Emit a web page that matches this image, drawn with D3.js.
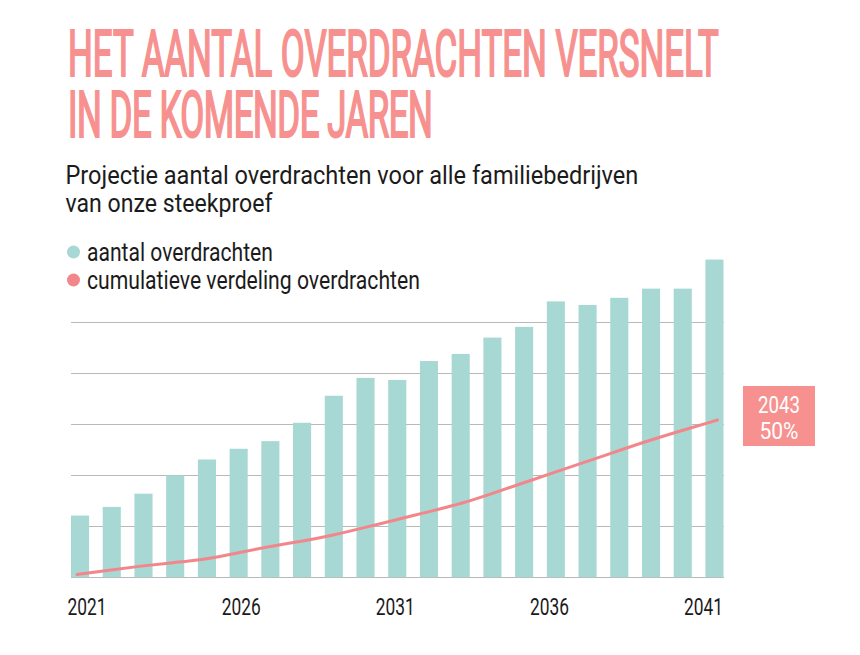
<!DOCTYPE html>
<html>
<head>
<meta charset="utf-8">
<script src="https://cdn.jsdelivr.net/npm/d3@7"></script>
<style>
  html, body { margin: 0; padding: 0; background: #ffffff; }
  svg { display: block; }
</style>
</head>
<body>
<div id="chart"></div>
<script>
// ---- Data ----
const years = ["2021","2022","2023","2024","2025","2026","2027","2028","2029","2030",
               "2031","2032","2033","2034","2035","2036","2037","2038","2039","2040","2041"];
const aantalOverdrachten = [12.1, 13.8, 16.4, 20.0, 23.1, 25.2, 26.7, 30.3, 35.6, 39.1,
                            38.7, 42.4, 43.8, 47.0, 49.1, 54.1, 53.4, 54.8, 56.6, 56.6, 62.3];
const cumulatieveVerdeling = [0.8, 2.1, 3.3, 4.3, 5.2, 7.1, 9.0, 10.5, 12.3, 14.6,
                              16.9, 19.2, 21.5, 24.6, 27.8, 31.0, 34.1, 37.3, 40.4, 43.2, 46.0];
const tickYears = ["2021","2026","2031","2036","2041"];
const gridValues = [0, 10, 20, 30, 40, 50];
const titleLines = ["HET AANTAL OVERDRACHTEN VERSNELT", "IN DE KOMENDE JAREN"];
const subtitleLines = ["Projectie aantal overdrachten voor alle familiebedrijven", "van onze steekproef"];
const legendItems = ["aantal overdrachten", "cumulatieve verdeling overdrachten"];
const annotationLines = ["2043", "50%"];

// ---- Styles ----
const W = 860, H = 655;
const teal = "#a7d8d3";
const pink = "#f7918f";
const lineColor = "#f2868a";
const font = "Roboto, 'Liberation Sans', sans-serif";

const svg = d3.select("#chart").append("svg")
  .attr("width", W).attr("height", H)
  .attr("viewBox", `0 0 ${W} ${H}`);

// Fit a text element horizontally to a target width by scaling about its anchor
function fitText(sel, xFn, yFn, wFn) {
  sel.each(function(d, i) {
    const el = d3.select(this);
    const len = this.getComputedTextLength();
    const sx = len > 0 ? wFn(d, i) / len : 1;
    el.attr("transform", `translate(${xFn(d, i)},${yFn(d, i)}) scale(${sx},1)`);
  });
}

// ---- Title (one text element, two lines) ----
const titleWidths = [651, 365];
const titleLineGap = 61.5;
const title = svg.append("text")
  .attr("font-family", font)
  .attr("font-size", 64)
  .attr("fill", pink)
  .attr("stroke", pink)
  .attr("stroke-width", 2.2);
const tspans = title.selectAll("tspan").data(titleLines).join("tspan")
  .attr("x", 0)
  .attr("y", (d, i) => i * titleLineGap)
  .text(d => d);
const len0 = tspans.nodes()[0].getComputedTextLength();
const titleSx = titleWidths[0] / len0;
// adjust second line with letter-spacing so it reaches its width at the same scale
tspans.each(function(d, i) {
  if (i > 0) {
    const li = this.getComputedTextLength();
    const extra = (titleWidths[i] / titleSx - li) / Math.max(1, d.length - 1);
    d3.select(this).attr("letter-spacing", extra);
  }
});
title.attr("transform", `translate(68,75.5) scale(${titleSx},1)`);

// ---- Subtitle ----
const subWidths = [573, 207];
const subBaselines = [183.5, 211.5];
const subSel = svg.selectAll("text.sub").data(subtitleLines).join("text")
  .attr("class", "sub")
  .attr("font-family", font)
  .attr("font-size", 25.5)
  .attr("fill", "#1b1b1b")
  .text(d => d);
fitText(subSel, () => 65.5, (d, i) => subBaselines[i], (d, i) => subWidths[i]);

// ---- Legend ----
const legendColors = [teal, lineColor];
const legendWidths = [186, 333];
const legendY = [252, 280];
svg.selectAll("circle.legend").data(legendItems).join("circle")
  .attr("class", "legend")
  .attr("cx", 73.5).attr("cy", (d, i) => legendY[i])
  .attr("r", 6.5).attr("fill", (d, i) => legendColors[i]);
const legSel = svg.selectAll("text.legend").data(legendItems).join("text")
  .attr("class", "legend")
  .attr("font-family", font)
  .attr("font-size", 25)
  .attr("fill", "#1b1b1b")
  .text(d => d);
fitText(legSel, () => 87, (d, i) => legendY[i] + 8.5, (d, i) => legendWidths[i]);

// ---- Scales ----
const x = d3.scaleBand().domain(years).range([71, 723.5]).paddingInner(0.43).paddingOuter(0);
const y = d3.scaleLinear().domain([0, 60]).range([577.3, 271.3]);
const y2 = d3.scaleLinear().domain([0, 50]).range([577.3, 406.3]);
const xLine = d3.scalePoint().domain(years)
  .range([x(years[0]) + x.bandwidth() / 2 - 3, x(years[years.length - 1]) + x.bandwidth() / 2 + 3]);
const xTick = d3.scalePoint().domain(tickYears).range([87, 703.5]);

// ---- Gridlines ----
svg.append("g").selectAll("line").data(gridValues).join("line")
  .attr("x1", 71).attr("x2", 724)
  .attr("y1", d => Math.round(y(d)) + 0.5).attr("y2", d => Math.round(y(d)) + 0.5)
  .attr("stroke", "#b9b9b9").attr("stroke-width", 1);

// ---- Bars ----
svg.append("g").selectAll("rect").data(years).join("rect")
  .attr("x", d => x(d))
  .attr("width", x.bandwidth())
  .attr("y", (d, i) => y(aantalOverdrachten[i]))
  .attr("height", (d, i) => y(0) - y(aantalOverdrachten[i]))
  .attr("fill", teal);

// ---- Cumulative line ----
const line = d3.line()
  .x((d, i) => xLine(years[i]))
  .y(d => y2(d))
  .curve(d3.curveBasis);
svg.append("path").datum(cumulatieveVerdeling)
  .attr("d", line)
  .attr("fill", "none")
  .attr("stroke", lineColor)
  .attr("stroke-width", 3)
  .attr("stroke-linecap", "round");

// ---- X tick labels ----
const tickSel = svg.append("g").selectAll("text").data(tickYears).join("text")
  .attr("text-anchor", "middle")
  .attr("font-family", font)
  .attr("font-size", 24.5)
  .attr("fill", "#1b1b1b")
  .text(d => d);
fitText(tickSel, d => xTick(d), () => 614.5, () => 39);

// ---- Annotation box ----
const ann = svg.append("g");
ann.append("rect")
  .attr("x", 743).attr("y", 386).attr("width", 72).attr("height", 60)
  .attr("fill", pink);
const annSel = ann.selectAll("text").data(annotationLines).join("text")
  .attr("text-anchor", "middle")
  .attr("font-family", font)
  .attr("font-size", 24)
  .attr("fill", "#ffffff")
  .text(d => d);
fitText(annSel, () => 779, (d, i) => 413 + i * 26, (d, i) => i === 0 ? 42 : 39);
</script>
</body>
</html>
